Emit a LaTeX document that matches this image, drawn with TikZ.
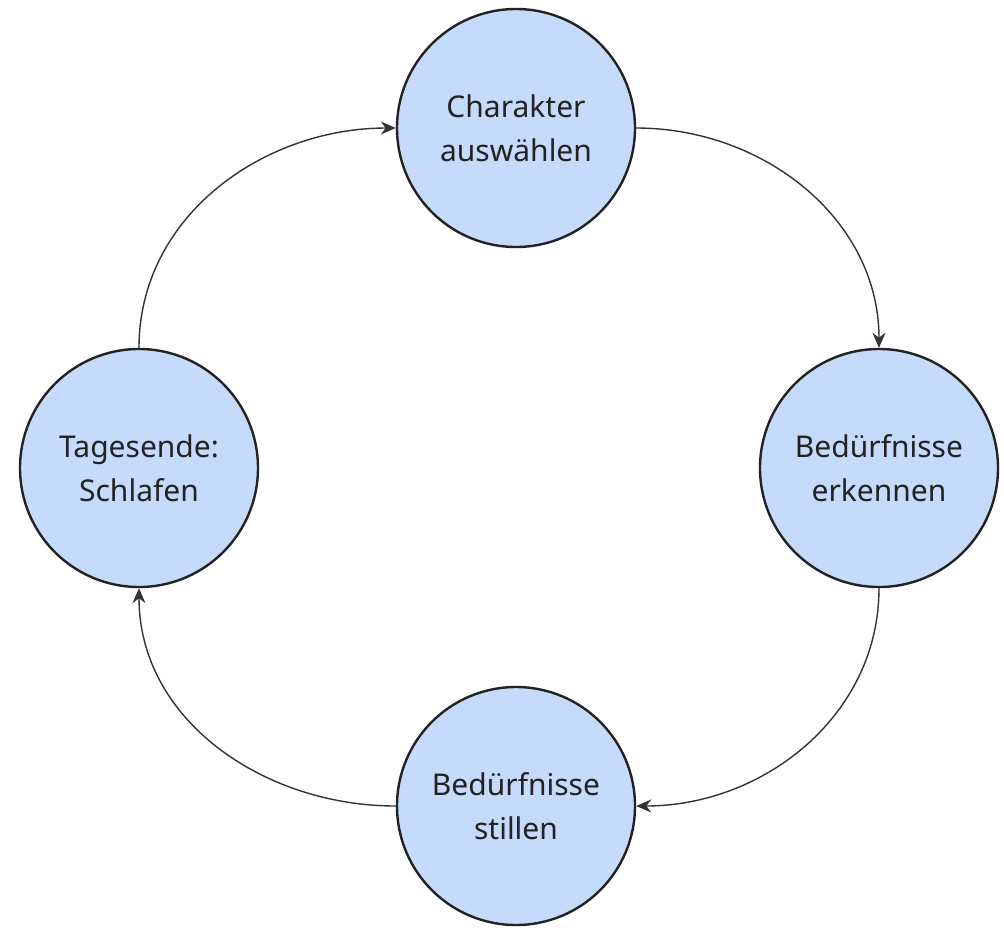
\documentclass[tikz,border=0pt]{standalone}
\usepackage{fontspec}
\setmainfont{Noto Sans}
\usetikzlibrary{arrows.meta}
\definecolor{stepfill}{RGB}{198,219,251}
\definecolor{stepline}{RGB}{34,34,34}
\definecolor{flowline}{RGB}{51,51,51}
\tikzset{
  phase/.style={circle, draw=stepline, line width=2.4pt, fill=stepfill,
    minimum size=238pt, inner sep=0pt, align=center, text=stepline,
    font=\fontsize{30}{44}\selectfont},
  flow/.style={draw=flowline, line width=1.4pt, -{Stealth[length=15pt,width=13pt]}}
}
\begin{document}
\begin{tikzpicture}[x=1pt,y=-1pt]
\useasboundingbox (0,0) rectangle (1004,930);
\node[phase] (waehlen)  at (516,128) {Charakter\\auswählen};
\node[phase] (erkennen) at (879,468) {Bedürfnisse\\erkennen};
\node[phase] (stillen)  at (516,806) {Bedürfnisse\\stillen};
\node[phase] (schlafen) at (139,468) {Tagesende:\\Schlafen};
\draw[flow] (waehlen.east) to[out=0,in=90] (erkennen.north);
\draw[flow] (erkennen.south) to[out=-90,in=0] (stillen.east);
\draw[flow] (stillen.west) to[out=180,in=-90] (schlafen.south);
\draw[flow] (schlafen.north) to[out=90,in=180] (waehlen.west);
\end{tikzpicture}
\end{document}
